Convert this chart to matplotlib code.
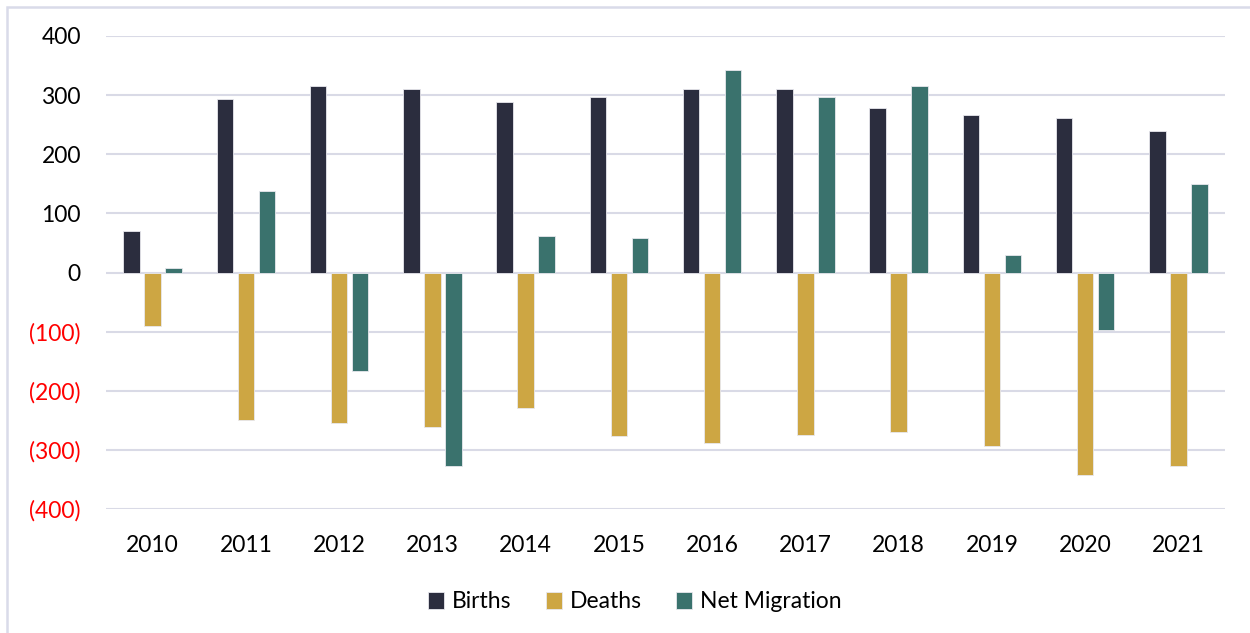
import matplotlib
matplotlib.use("Agg")
import matplotlib.pyplot as plt
import numpy as np
from matplotlib.patches import Rectangle

years = ["2010", "2011", "2012", "2013", "2014", "2015", "2016", "2017", "2018", "2019", "2020", "2021"]
births = [71, 294, 316, 311, 288, 296, 310, 310, 279, 266, 261, 240]
deaths = [-90, -250, -255, -261, -230, -276, -288, -274, -269, -293, -343, -327]
net_migration = [8, 137, -166, -328, 61, 59, 342, 296, 315, 29, -98, 149]
y_ticks = [-400, -300, -200, -100, 0, 100, 200, 300, 400]

plt.rcParams['font.family'] = ['Lato', 'DejaVu Sans']

fig = plt.figure(figsize=(12.5, 6.33), dpi=100)
ax = fig.add_axes([106/1250, 1 - 509/633, (1225-106)/1250, (509-36)/633])

x = np.arange(len(years))
w = 0.175
off = 0.225
series = [("Births", births, "#2B2D3E"), ("Deaths", deaths, "#CDA643"), ("Net Migration", net_migration, "#3A726D")]
for i, (name, vals, col) in enumerate(series):
    ax.bar(x + (i - 1) * off, vals, width=w, color=col, label=name, zorder=3,
           edgecolor="#E8E8EE", linewidth=0.6)

ax.set_xlim(-0.5, len(years) - 0.5)
ax.set_ylim(-400, 400)
ax.set_yticks(y_ticks)
labels = []
for v in y_ticks:
    labels.append(f"({abs(v)})" if v < 0 else f"{v}")
ax.set_yticklabels(labels)
for t, v in zip(ax.get_yticklabels(), y_ticks):
    t.set_color("#FF0000" if v < 0 else "black")
ax.set_xticks(x)
ax.set_xticklabels(years)
ax.tick_params(axis='both', length=0, labelsize=16.5)
ax.tick_params(axis='y', pad=18)
ax.tick_params(axis='x', pad=19)
ax.grid(axis='y', color="#D9DAE6", linewidth=1.5, zorder=0)
for s in ax.spines.values():
    s.set_visible(False)

leg = fig.legend(loc='center', bbox_to_anchor=(0.508, 1 - 602/633), ncol=3, frameon=False,
                 fontsize=16.5, handlelength=0.7, handleheight=0.7, handletextpad=0.35,
                 columnspacing=1.5)

fig.patches.append(Rectangle((7/1250, -0.1), 1.2, 1 - 7/633 + 0.1, transform=fig.transFigure,
                             fill=False, edgecolor="#D9DBE9", linewidth=1.8))

fig.savefig("out.png", dpi=100)
